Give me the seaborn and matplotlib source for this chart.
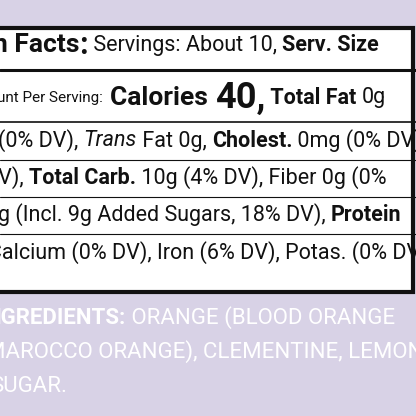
import matplotlib
matplotlib.use("Agg")
import matplotlib.pyplot as plt
import seaborn as sns

sns.set_theme(style="white")
plt.rcParams['font.family'] = ['Roboto', 'DejaVu Sans']

BG = "#d8d2e6"
rows = [
    (45, [("n Facts", "bold", "normal", 19), (":", "bold", "normal", 22), (" Servings: About 10, ", "normal", "normal", 15.5), ("Serv. Size", "bold", "normal", 15.5)]),
    (98, [("unt Per Serving:  ", "normal", "normal", 11), ("Calories ", "bold", "normal", 19), ("40,", "bold", "normal", 26), (" Total Fat ", "bold", "normal", 15.5), ("0g", "normal", "normal", 15.5)]),
    (141, [("(0% DV), ", "normal", "normal", 15.5), ("Trans", "normal", "italic", 15.5), (" Fat 0g, ", "normal", "normal", 15.5), ("Cholest.", "bold", "normal", 15.5), (" 0mg (0% DV)", "normal", "normal", 15.5)]),
    (178, [("DV), ", "normal", "normal", 15.5), ("Total Carb.", "bold", "normal", 15.5), (" 10g (4% DV), Fiber 0g (0%", "normal", "normal", 15.5)]),
    (215, [("g (Incl. 9g Added Sugars, 18% DV), ", "normal", "normal", 15.5), ("Protein", "bold", "normal", 15.5)]),
    (253, [("Calcium (0% DV), Iron (6% DV), Potas. (0% DV)", "normal", "normal", 15.5)]),
]
row_x = [-7, -3, -2, -16, -2, -12]
ingredients = [
    [("NGREDIENTS:", "bold"), (" ORANGE (BLOOD ORANGE", "normal")],
    [("MAROCCO ORANGE), CLEMENTINE, LEMON", "normal")],
    [("SUGAR.", "normal")],
]
ing_x = [-14, -14, -10]
ing_y = [318, 352, 386]
rules = [(70, 2.2), (122, 1.2), (160, 0.8), (197, 0.8), (234, 0.8)]

fig = plt.figure(figsize=(4.16, 4.16), dpi=100, facecolor=BG)
ax = fig.add_axes([0, 0, 1, 1])
ax.set_xlim(0, 416); ax.set_ylim(416, 0); ax.axis("off")
ax.add_patch(plt.Rectangle((-5, 28), 418, 264, facecolor="white", edgecolor="#111", lw=3))
for y, w in rules:
    ax.plot([0, 416], [y, y], color="#111", lw=w)

fig.canvas.draw()
r = fig.canvas.get_renderer()
inv = ax.transData.inverted()

def draw(x, y, segs, color):
    for s in segs:
        t, wt, st, sz = s
        tx = ax.text(x, y, t, fontsize=sz, fontweight=wt, fontstyle=st, color=color,
                     va="center", ha="left")
        bb = tx.get_window_extent(renderer=r)
        x = inv.transform((bb.x1, bb.y0))[0]

for (y, segs), x0 in zip(rows, row_x):
    draw(x0, y, segs, "#111")
for y, segs, x0 in zip(ing_y, ingredients, ing_x):
    draw(x0, y, [(t, w, "normal", 16) for t, w in segs], "white")

fig.savefig("out.png", dpi=100, facecolor=BG)
